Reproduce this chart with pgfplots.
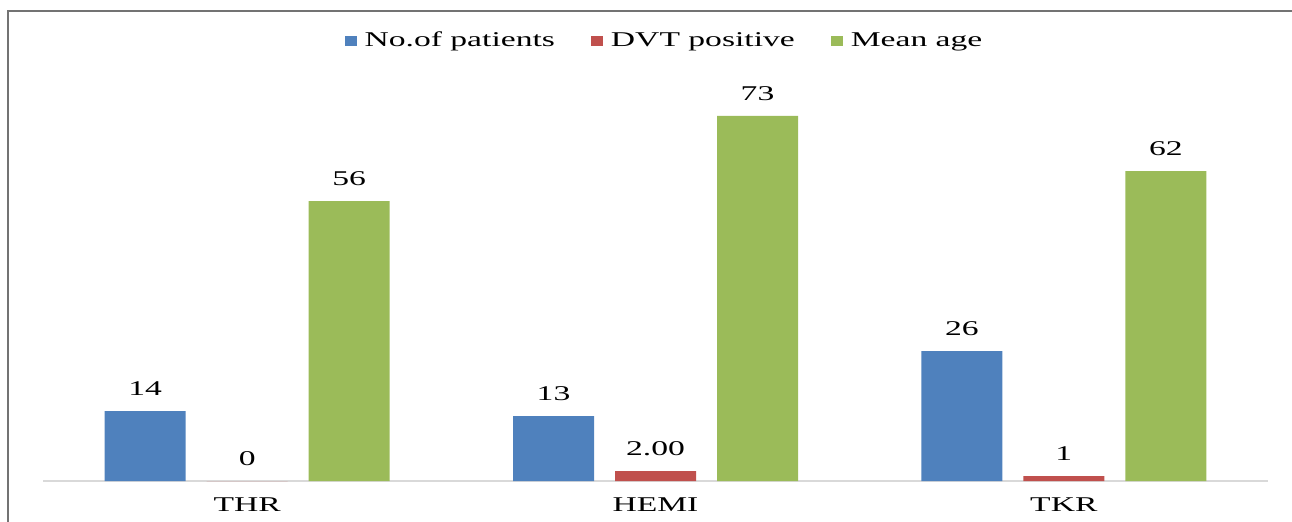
\documentclass[border=0pt]{standalone}
\usepackage{fontspec}
\setmainfont{Liberation Serif}[FakeStretch=1.6]
\usepackage{pgfplots}
\pgfplotsset{compat=1.18}
\definecolor{cblue}{HTML}{4F81BD}
\definecolor{cred}{HTML}{C0504D}
\definecolor{cgreen}{HTML}{9BBB59}
\begin{document}
\begin{tikzpicture}
\useasboundingbox (-21.5pt,-20pt) rectangle (624.5pt,240.5pt);
\begin{axis}[
  at={(0pt,0pt)}, anchor=south west,
  scale only axis, width=612.5pt, height=200pt,
  xmin=-0.5, xmax=2.5, ymin=0, ymax=80,
  ybar=10.5pt, bar width=40.5pt,
  axis y line=none, axis x line*=bottom,
  x axis line style={draw=black!15, line width=1pt, -},
  ytick=\empty,
  xtick={0,1,2}, xticklabels={THR,HEMI,TKR},
  major tick length=0pt,
  xticklabel style={font=\fontsize{10.5}{12}\selectfont, yshift=-5pt},
  nodes near coords, point meta=explicit symbolic,
  every node near coord/.append style={font=\fontsize{10.5}{12}\selectfont, black, yshift=4pt},
  legend style={draw=none, legend columns=3, at={(0.5,1.1)}, anchor=center, xshift=5pt,
    font=\fontsize{10.5}{12}\selectfont,
    /tikz/every even column/.append style={column sep=16pt}},
  legend image code/.code={\fill[#1] (0pt,-2.5pt) rectangle (6pt,2.5pt); \path (8pt,0pt);},
]
\addplot[fill=cblue, draw=none] coordinates {(0,14) [14] (1,13) [13] (2,26) [26]};
\addplot[fill=cred, draw=none] coordinates {(0,0) [0] (1,2) [2.00] (2,1) [1]};
\addplot[fill=cgreen, draw=none] coordinates {(0,56) [56] (1,73) [73] (2,62) [62]};
\legend{No.of patients, DVT positive, Mean age}
\end{axis}
\draw[black!55, line width=1pt] (-17.5pt,-40pt) -- (-17.5pt,235pt) -- (700pt,235pt);
\end{tikzpicture}
\end{document}
